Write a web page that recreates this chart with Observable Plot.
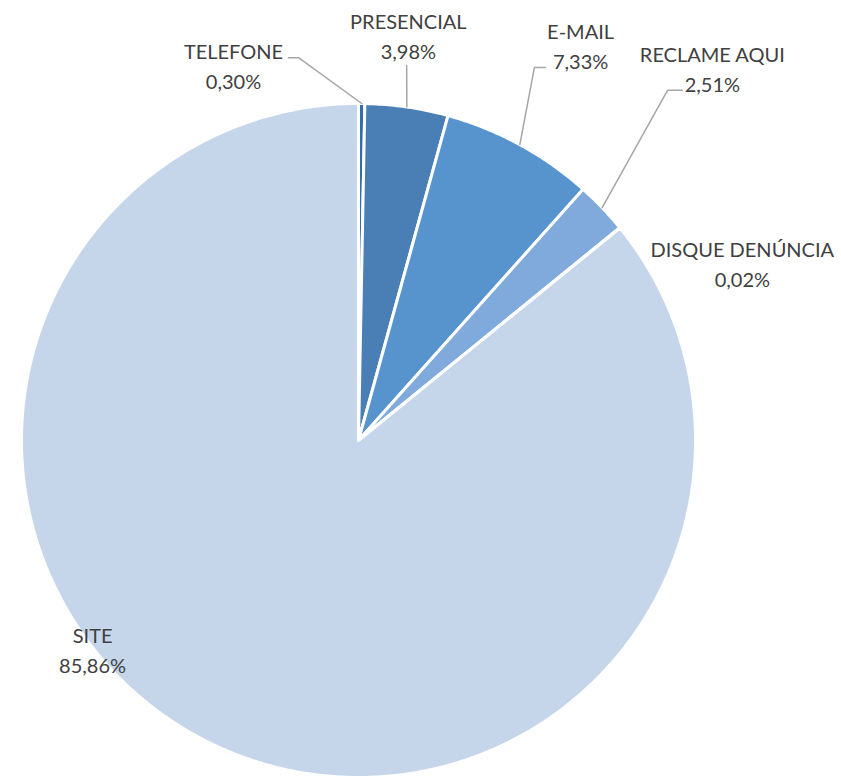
<!DOCTYPE html>
<html>
<head>
<meta charset="utf-8">
<script src="https://cdn.jsdelivr.net/npm/d3@7"></script>
<script src="https://cdn.jsdelivr.net/npm/@observablehq/plot@0.6"></script>
<style>
  html, body { margin: 0; padding: 0; background: #fff; }
  #chart svg { display: block; }
</style>
</head>
<body>
<div id="chart"></div>
<script>
// Data
const categories = ["TELEFONE", "PRESENCIAL", "E-MAIL", "RECLAME AQUI", "DISQUE DENÚNCIA", "SITE"];
const shares = [0.30, 3.98, 7.33, 2.51, 0.02, 85.86];
const sliceColors = ["#2f6ead", "#4a7fb5", "#5794cd", "#7faadb", "#9dbde4", "#c5d5ea"];

// Label placement (in units of pie radius, relative to centre)
const labelPos = [[-0.371, 1.116], [0.148, 1.205], [0.659, 1.175], [1.050, 1.107], [1.139, 0.528], [-0.789, -0.617]];
// Leader line elbows (start points, in radius units); null = no leader
const leaderStart = [
  [[-0.208, 1.136], [-0.178, 1.136]],
  [[0.143, 1.113]],
  [[0.555, 1.107], [0.522, 1.107]],
  [[0.961, 1.039], [0.917, 1.039]],
  null,
  null
];

const total = d3.sum(shares);
let acc = 0;
const slices = categories.map((name, i) => {
  const a0 = acc / total * 2 * Math.PI;
  acc += shares[i];
  const a1 = acc / total * 2 * Math.PI;
  return {name, value: shares[i], a0, a1, color: sliceColors[i], i};
});

function slicePoints(s) {
  const pts = [{x: 0, y: 0}];
  const step = Math.PI / 360;
  const n = Math.max(1, Math.ceil((s.a1 - s.a0) / step));
  for (let k = 0; k <= n; k++) {
    const a = s.a0 + (s.a1 - s.a0) * k / n;
    pts.push({x: Math.sin(a), y: Math.cos(a)});
  }
  return pts;
}

const fmt = v => v.toFixed(2).replace(".", ",") + "%";

const labels = slices.map((s, i) => ({
  x: labelPos[i][0], y: labelPos[i][1],
  text: s.name + "\n" + fmt(s.value)
}));

const leaders = [];
slices.forEach((s, i) => {
  if (!leaderStart[i]) return;
  const mid = (s.a0 + s.a1) / 2;
  leaderStart[i].forEach(p => leaders.push({x: p[0], y: p[1], k: s.name}));
  leaders.push({x: Math.sin(mid), y: Math.cos(mid), k: s.name});
});

const marks = [];
slices.forEach(s => {
  marks.push(Plot.line(slicePoints(s), {
    x: "x", y: "y", fill: s.color, stroke: "white", strokeWidth: 3,
    strokeLinejoin: "round", curve: "linear-closed"
  }));
});
marks.push(Plot.line(leaders, {x: "x", y: "y", z: "k", stroke: "#a6a6a6", strokeWidth: 1.5}));
marks.push(Plot.text(labels, {
  x: "x", y: "y", text: "text", fontSize: 20, fill: "#404040",
  lineHeight: 1.48, fontFamily: "Lato, Carlito, sans-serif"
}));

const chart = Plot.plot({
  width: 841,
  height: 777,
  marginLeft: 21,
  marginRight: 146,
  marginTop: 103,
  marginBottom: 0,
  x: {domain: [-1, 1], axis: null},
  y: {domain: [-1, 1], axis: null},
  style: {background: "white", overflow: "visible"},
  marks
});
document.getElementById("chart").appendChild(chart);
</script>
</body>
</html>
